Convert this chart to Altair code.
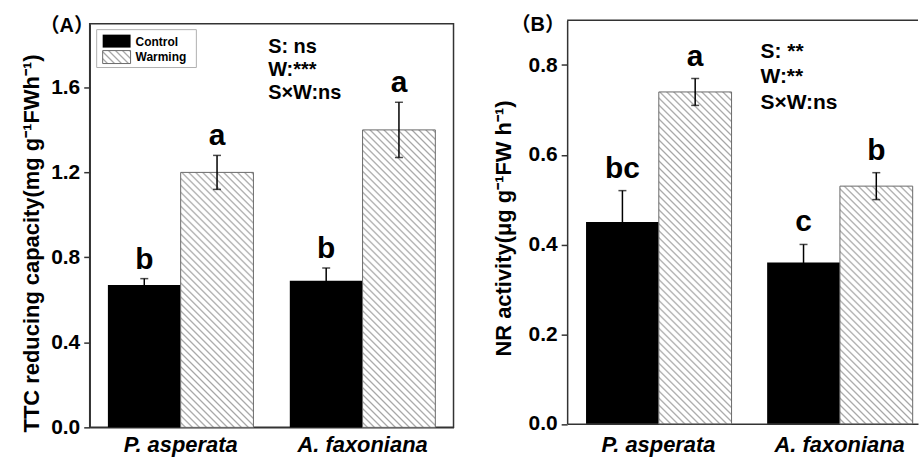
import math
import altair as alt
import pandas as pd

# ---------------- data ----------------
species = ["P. asperata", "A. faxoniana"]
treatments = ["Control", "Warming"]

ttc_control = [0.67, 0.69]
ttc_control_err = [0.03, 0.06]
ttc_warming = [1.20, 1.40]
ttc_warming_err = [0.08, 0.13]
ttc_letters_control = ["b", "b"]
ttc_letters_warming = ["a", "a"]

nr_control = [0.45, 0.36]
nr_control_err = [0.07, 0.04]
nr_warming = [0.74, 0.53]
nr_warming_err = [0.03, 0.03]
nr_letters_control = ["bc", "c"]
nr_letters_warming = ["a", "b"]

stats_A = ["S: ns", "W:***", "S×W:ns"]
stats_B = ["S: **", "W:**", "S×W:ns"]

yticks_A = [0.0, 0.4, 0.8, 1.2, 1.6]
yticks_B = [0.0, 0.2, 0.4, 0.6, 0.8]

title_A = "TTC reducing capacity(mg g⁻¹FWh⁻¹)"
title_B = "NR activity(μg g⁻¹FW h⁻¹)"

FONT = "Liberation Sans"
CJK = "Liberation Sans, Noto Sans CJK SC"
FRAME = "#333333"
PLOT_H = 405


def build_df(ctrl, ctrl_err, warm, warm_err, let_c, let_w):
    rows = []
    for i, s in enumerate(species):
        rows.append({"species": s, "treatment": "Control", "mean": ctrl[i],
                     "lo": ctrl[i] - ctrl_err[i], "hi": ctrl[i] + ctrl_err[i],
                     "letter": let_c[i]})
        rows.append({"species": s, "treatment": "Warming", "mean": warm[i],
                     "lo": warm[i] - warm_err[i], "hi": warm[i] + warm_err[i],
                     "letter": let_w[i]})
    return pd.DataFrame(rows)


def hatch(w, h, s=4.95, line="#a6a6a6"):
    """Diagonal hatch as a linear gradient in bounding-box units (45 deg in pixels)."""
    n = (w + h) / (math.sqrt(2) * s)
    stops = []
    k = 0
    while k < n:
        for f, c in [(0.0, "#ffffff"), (0.45, "#ffffff"), (0.7, line), (0.95, "#ffffff")]:
            off = (k + f) / n
            if off <= 1:
                stops.append(alt.GradientStop(offset=off, color=c))
        k += 1
    d = w * w + h * h
    x2 = w * (w + h) / d
    y2 = 1 - h * (w + h) / d
    return alt.LinearGradient(gradient="linear", stops=stops, x1=0, y1=1, x2=x2, y2=y2)


def one():
    return alt.Data(values=[{"k": 0}])


def panel(df, warm, ymax, yticks, ytitle, title_x, title_y, width, yrange,
          po, align, xlabel_pad, xoffset, letter_dy, tag, tag_x, tag_y,
          stats, stats_x, stats_y, stats_size, stats_lh, legend, top_rule):
    xenc = alt.X("species:N", sort=species,
                 scale=alt.Scale(domain=species, paddingInner=0.2, paddingOuter=po, align=align),
                 axis=alt.Axis(title=None, labelAngle=0, ticks=False, labelFontSize=22,
                               labelFontStyle="italic", labelFontWeight="bold", labelColor="black",
                               labelPadding=xlabel_pad, domainColor=FRAME, domainWidth=1.5,
                               offset=xoffset, labelFont=FONT))
    xoff = alt.XOffset("treatment:N", sort=treatments,
                       scale=alt.Scale(domain=treatments, paddingInner=0, paddingOuter=0))
    skw = dict(domain=[0, ymax], nice=False, zero=True)
    if yrange is not None:
        skw["range"] = yrange
    yscale = alt.Scale(**skw)
    yaxis = alt.Axis(title=ytitle, values=yticks, format=".1f", grid=False,
                     tickSize=6, tickWidth=1.5, tickColor=FRAME, domainColor=FRAME,
                     domainWidth=1.5, labelFontSize=21, labelFontWeight="bold",
                     labelColor="black", labelPadding=4, labelFont=FONT,
                     titleFont=FONT, titleFontSize=22, titleFontWeight="bold",
                     titleColor="black", titleX=title_x, titleY=title_y,
                     titleBaseline="bottom", titleAlign="center")

    def Y(field):
        return alt.Y(f"{field}:Q", scale=yscale, axis=yaxis)

    base = alt.Chart(df)
    layers = []
    layers.append(base.transform_filter(alt.datum.treatment == "Control")
                  .mark_bar(color="black")
                  .encode(x=xenc, xOffset=xoff, y=Y("mean")))
    step = width / (2 - 0.2 + 2 * po)
    bw = 0.4 * step
    for i, s in enumerate(species):
        h = warm[i] / ymax * PLOT_H
        layers.append(base.transform_filter(
            (alt.datum.treatment == "Warming") & (alt.datum.species == s))
            .mark_bar(fill=hatch(bw, h), stroke="#6a6a6a", strokeWidth=1)
            .encode(x=xenc, xOffset=xoff, y=Y("mean")))
    layers.append(base.mark_rule(color="black", strokeWidth=1.5)
                  .encode(x=xenc, xOffset=xoff, y=Y("lo"), y2="hi"))
    layers.append(base.mark_tick(color="black", thickness=1.5, size=8)
                  .encode(x=xenc, xOffset=xoff, y=Y("hi")))
    layers.append(base.mark_tick(color="black", thickness=1.5, size=8)
                  .encode(x=xenc, xOffset=xoff, y=Y("lo")))
    layers.append(base.mark_text(dy=letter_dy, baseline="alphabetic", align="center",
                                 fontSize=30, fontWeight="bold", color="black", font=FONT)
                  .encode(x=xenc, xOffset=xoff, y=Y("hi"), text="letter:N"))

    # panel tag
    layers.append(alt.Chart(one()).mark_text(align="center", baseline="alphabetic",
                                             fontSize=20, fontWeight="bold", font=CJK,
                                             color="black")
                  .encode(x=alt.value(tag_x), y=alt.value(tag_y), text=alt.value(tag)))
    # statistics
    layers.append(alt.Chart(one()).mark_text(align="left", baseline="alphabetic",
                                             fontSize=stats_size, fontWeight="bold", font=FONT,
                                             lineHeight=stats_lh, color="black")
                  .encode(x=alt.value(stats_x), y=alt.value(stats_y), text=alt.value(stats)))
    if top_rule:
        layers.append(alt.Chart(one()).mark_rule(color=FRAME, strokeWidth=1.5)
                      .encode(x=alt.value(0), x2=alt.value(width), y=alt.value(yrange[1])))
    if legend:
        layers.append(alt.Chart(one()).mark_rect(fill="white", stroke="#b0b0b0", strokeWidth=1)
                      .encode(x=alt.value(7), x2=alt.value(107), y=alt.value(6), y2=alt.value(44)))
        layers.append(alt.Chart(one()).mark_rect(fill="black")
                      .encode(x=alt.value(13), x2=alt.value(41), y=alt.value(11), y2=alt.value(24)))
        layers.append(alt.Chart(one()).mark_rect(fill=hatch(28, 13), stroke="#6a6a6a", strokeWidth=1)
                      .encode(x=alt.value(13), x2=alt.value(41), y=alt.value(27), y2=alt.value(40)))
        for lab, yy in zip(treatments, [22, 37]):
            layers.append(alt.Chart(one()).mark_text(align="left", baseline="alphabetic",
                                                     fontSize=12, fontWeight="bold", font=FONT,
                                                     color="black")
                          .encode(x=alt.value(46), y=alt.value(yy), text=alt.value(lab)))
    return alt.layer(*layers)


dfA = build_df(ttc_control, ttc_control_err, ttc_warming, ttc_warming_err,
               ttc_letters_control, ttc_letters_warming)
dfB = build_df(nr_control, nr_control_err, nr_warming, nr_warming_err,
               nr_letters_control, nr_letters_warming)

WA = 365
WB = 352

chartA = panel(dfA, ttc_warming, 1.9, yticks_A, title_A, -46, 220, WA, None,
               0.1, 0.5, 7, 0, -10, "（A）", -23, 8,
               stats_A, 179, 29, 20, 23.5, True, False).properties(
    width=WA, height=PLOT_H, view=alt.ViewBackground(stroke=FRAME, strokeWidth=1.5))

chartB = panel(dfB, nr_warming, 0.9, yticks_B, title_B, -52, 205, WB, [401.5, -3.5],
               0.0686, 0.76, 10.5, -3.5, -13, "（B）", -29.5, 7,
               stats_B, 194, 34, 21, 26, False, True).properties(
    width=WB, height=PLOT_H, view=alt.ViewBackground(stroke="transparent"))

chart = alt.hconcat(chartA, chartB, spacing=114, bounds="flush").properties(
    padding={"left": 20, "top": 13, "right": 0, "bottom": 0}
).configure(font=FONT, background="white")

chart.save("out.html", embed_options={"renderer": "svg", "actions": False})
